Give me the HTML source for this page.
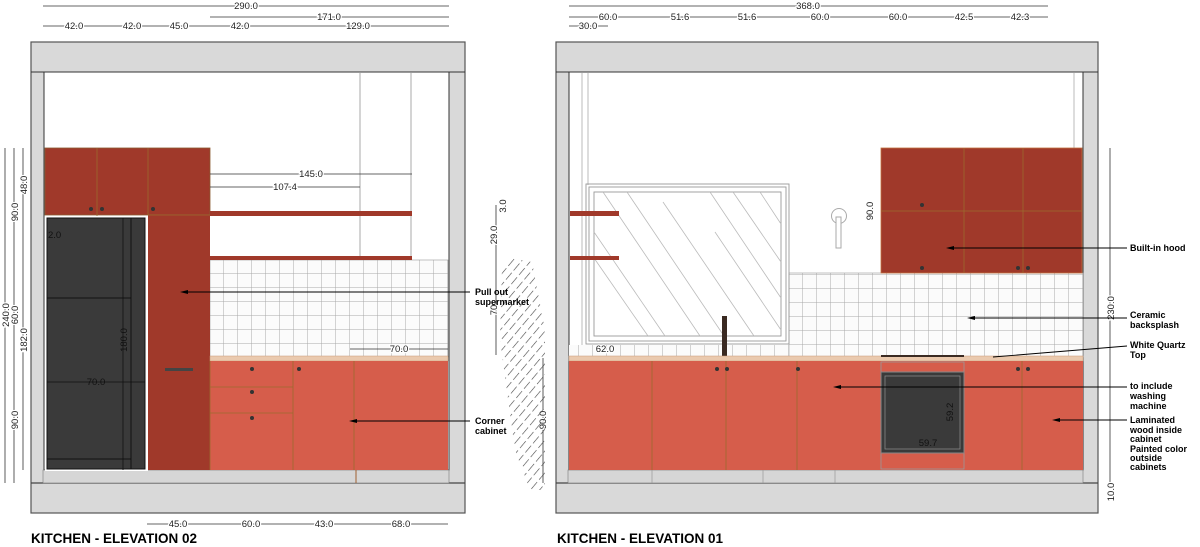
<!DOCTYPE html>
<html><head><meta charset="utf-8"><style>
html,body{margin:0;padding:0;background:#fff;}
svg{display:block;font-family:"Liberation Sans",sans-serif;}
.d{font-size:9.5px;fill:#222;paint-order:stroke;stroke:#fff;stroke-width:2.5px;}
.d .n{stroke:none;fill:#111;}
.lb{font-size:9px;font-weight:bold;fill:#000;}
.ttl{font-size:13.5px;font-weight:bold;fill:#000;}
</style></head><body>
<svg width="1200" height="547" viewBox="0 0 1200 547" xmlns="http://www.w3.org/2000/svg">
<defs>
<pattern id="tile" x="210" y="260" width="14" height="14" patternUnits="userSpaceOnUse">
<rect width="14" height="14" fill="#fbfbfb"/><path d="M14 0V14M0 14H14" stroke="#a8a8a8" stroke-width="1" fill="none"/>
</pattern>
<pattern id="tile2" x="789" y="274" width="14" height="14" patternUnits="userSpaceOnUse">
<rect width="14" height="14" fill="#fbfbfb"/><path d="M14 0V14M0 0H14" stroke="#a8a8a8" stroke-width="1" fill="none"/>
</pattern>
<pattern id="hatch" width="7" height="12" patternUnits="userSpaceOnUse" patternTransform="rotate(40)">
<line x1="0" y1="0" x2="0" y2="12" stroke="#444" stroke-width="1.2" stroke-dasharray="9 3"/>
</pattern>
</defs>

<!-- ===== ELEVATION 02 ===== -->
<rect x="31" y="42" width="434" height="471" fill="#d9d9d9" stroke="#555" stroke-width="1.2"/>
<rect x="44" y="72" width="405" height="398" fill="#fff" stroke="#333" stroke-width="1"/>
<line x1="31" y1="72" x2="465" y2="72" stroke="#333"/>
<line x1="31" y1="483" x2="465" y2="483" stroke="#444" stroke-width="1.2"/>
<rect x="43" y="470" width="406" height="13" fill="#d6d6d6" stroke="#777" stroke-width="0.6"/>
<line x1="356" y1="470" x2="356" y2="483" stroke="#a06030"/>
<line x1="360" y1="73" x2="360" y2="260" stroke="#aaa"/>
<line x1="411" y1="73" x2="411" y2="260" stroke="#aaa"/>
<rect x="210" y="260" width="238" height="97" fill="url(#tile)" stroke="#999" stroke-width="0.6"/>
<rect x="45" y="148" width="165" height="67" fill="#a0392a" stroke="#8a5a30" stroke-width="0.8"/>
<line x1="97" y1="148" x2="97" y2="218" stroke="#9b6b2e" stroke-width="0.8"/>
<line x1="148" y1="148" x2="148" y2="215" stroke="#9b6b2e" stroke-width="0.8"/>
<rect x="148" y="215" width="62" height="255" fill="#a0392a"/>
<line x1="148" y1="215" x2="210" y2="215" stroke="#9b6b2e" stroke-width="0.8"/>
<rect x="165" y="368" width="28" height="3" fill="#444"/>
<circle cx="91" cy="209" r="2" fill="#333"/><circle cx="102" cy="209" r="2" fill="#333"/><circle cx="153" cy="209" r="2" fill="#333"/>
<rect x="45" y="216" width="103" height="255" fill="#fff"/>
<rect x="47" y="218" width="98" height="251" fill="#3a3a3a" stroke="#111" stroke-width="1"/>
<line x1="131" y1="218" x2="131" y2="469" stroke="#111"/>
<line x1="47" y1="298" x2="131" y2="298" stroke="#111"/>
<line x1="47" y1="459" x2="131" y2="459" stroke="#111"/>
<rect x="210" y="211" width="202" height="5" fill="#a0392a"/>
<rect x="210" y="256" width="202" height="4" fill="#a0392a"/>
<rect x="210" y="356" width="238" height="5" fill="#eac9ae" stroke="#c89a78" stroke-width="0.5"/>
<rect x="210" y="361" width="238" height="109" fill="#d65d4b"/>
<line x1="293" y1="361" x2="293" y2="470" stroke="#9b6b2e" stroke-width="0.8"/>
<line x1="354" y1="361" x2="354" y2="470" stroke="#9b6b2e" stroke-width="0.8"/>
<line x1="210" y1="387" x2="293" y2="387" stroke="#9b6b2e" stroke-width="0.8"/>
<line x1="210" y1="413" x2="293" y2="413" stroke="#9b6b2e" stroke-width="0.8"/>
<line x1="210" y1="361" x2="210" y2="470" stroke="#9b6b2e" stroke-width="0.8"/>
<g fill="#333"><circle cx="252" cy="369" r="2"/><circle cx="252" cy="392" r="2"/><circle cx="252" cy="418" r="2"/><circle cx="299" cy="369" r="2"/></g>
<g stroke="#333" stroke-width="0.8" fill="none">
<line x1="43" y1="6" x2="449" y2="6"/>
<line x1="210" y1="17" x2="449" y2="17"/>
<line x1="43" y1="26" x2="449" y2="26"/>
<line x1="210" y1="174" x2="412" y2="174"/>
<line x1="210" y1="187" x2="360" y2="187"/>
<line x1="47" y1="382" x2="145" y2="382" stroke="#111"/>
<line x1="350" y1="349" x2="448" y2="349"/>
<line x1="147" y1="524" x2="448" y2="524"/>
<line x1="5" y1="148" x2="5" y2="483"/>
<line x1="14" y1="148" x2="14" y2="483"/>
<line x1="23" y1="148" x2="23" y2="470"/>
<line x1="123" y1="218" x2="123" y2="470" stroke="#111"/>
<line x1="496" y1="205" x2="496" y2="355"/>
<line x1="543" y1="358" x2="543" y2="483"/>
<line x1="1110" y1="148" x2="1110" y2="483"/>
<line x1="869" y1="148" x2="869" y2="273"/>
<line x1="569" y1="6" x2="1048" y2="6"/>
<line x1="569" y1="17" x2="1048" y2="17"/>
<line x1="569" y1="26" x2="608" y2="26"/>
<line x1="569" y1="349" x2="651" y2="349"/>
<line x1="881" y1="443" x2="964" y2="443" stroke="#111"/>
<line x1="956" y1="373" x2="956" y2="452" stroke="#111"/>
</g>
<g class="d">
<text x="246" y="9" text-anchor="middle">290.0</text>
<text x="329" y="20" text-anchor="middle">171.0</text>
<text x="74" y="29" text-anchor="middle">42.0</text>
<text x="132" y="29" text-anchor="middle">42.0</text>
<text x="179" y="29" text-anchor="middle">45.0</text>
<text x="240" y="29" text-anchor="middle">42.0</text>
<text x="358" y="29" text-anchor="middle">129.0</text>
<text x="311" y="177" text-anchor="middle">145.0</text>
<text x="285" y="190" text-anchor="middle">107.4</text>
<text class="n" x="96" y="385" text-anchor="middle">70.0</text>
<text x="399" y="352" text-anchor="middle">70.0</text>
<text x="178" y="527" text-anchor="middle">45.0</text>
<text x="251" y="527" text-anchor="middle">60.0</text>
<text x="324" y="527" text-anchor="middle">43.0</text>
<text x="401" y="527" text-anchor="middle">68.0</text>
<text class="n" x="48" y="238">2.0</text>
<text transform="translate(9,315) rotate(-90)" text-anchor="middle">240.0</text>
<text transform="translate(18,212) rotate(-90)" text-anchor="middle">90.0</text>
<text transform="translate(27,185) rotate(-90)" text-anchor="middle">48.0</text>
<text transform="translate(18,315) rotate(-90)" text-anchor="middle">60.0</text>
<text transform="translate(27,340) rotate(-90)" text-anchor="middle">182.0</text>
<text transform="translate(18,420) rotate(-90)" text-anchor="middle">90.0</text>
<text class="n" transform="translate(127,340) rotate(-90)" text-anchor="middle">180.0</text>
<text transform="translate(506,206) rotate(-90)" text-anchor="middle">3.0</text>
<text transform="translate(497,235) rotate(-90)" text-anchor="middle">29.0</text>
<text transform="translate(497,310) rotate(-90)" text-anchor="middle">70</text>
<text transform="translate(546,420) rotate(-90)" text-anchor="middle">90.0</text>
</g>
<polygon points="510,258 532,262 545,330 545,490 530,490 515,450 500,340 502,268" fill="url(#hatch)"/>
<g stroke="#000" stroke-width="0.9"><line x1="183" y1="292" x2="470" y2="292"/><line x1="352" y1="421" x2="470" y2="421"/></g>
<polygon points="180,292 188,290 188,294" fill="#000"/><polygon points="349,421 357,419 357,423" fill="#000"/>
<text class="lb" x="475" y="295">Pull out</text><text class="lb" x="475" y="305">supermarket</text>
<text class="lb" x="475" y="424">Corner</text><text class="lb" x="475" y="434">cabinet</text>
<text class="ttl" x="31" y="543">KITCHEN - ELEVATION 02</text>

<!-- ===== ELEVATION 01 ===== -->
<rect x="556" y="42" width="542" height="471" fill="#d9d9d9" stroke="#555" stroke-width="1.2"/>
<rect x="569" y="72" width="514" height="398" fill="#fff" stroke="#333" stroke-width="1"/>
<line x1="556" y1="72" x2="1098" y2="72" stroke="#333"/>
<line x1="556" y1="483" x2="1098" y2="483" stroke="#444" stroke-width="1.2"/>
<rect x="568" y="470" width="515" height="13" fill="#d6d6d6" stroke="#777" stroke-width="0.6"/>
<g stroke="#999" stroke-width="0.7"><line x1="652" y1="470" x2="652" y2="483"/><line x1="763" y1="470" x2="763" y2="483"/><line x1="835" y1="470" x2="835" y2="483"/></g>
<g stroke="#aaa" stroke-width="0.8"><line x1="582" y1="73" x2="582" y2="357"/><line x1="588" y1="73" x2="588" y2="185"/><line x1="1074" y1="73" x2="1074" y2="148"/></g>
<rect x="569" y="345" width="220" height="12" fill="url(#tile2)"/>
<rect x="789" y="273" width="294" height="84" fill="url(#tile2)" stroke="#999" stroke-width="0.6"/>
<g fill="none" stroke="#999" stroke-width="0.9">
<rect x="586" y="184" width="203" height="160"/><rect x="589" y="187" width="197" height="154"/>
<rect x="594" y="192" width="187" height="144"/>
</g>
<g stroke="#bbb" stroke-width="0.8">
<line x1="603" y1="192" x2="700" y2="336"/><line x1="627" y1="192" x2="724" y2="336"/>
<line x1="663" y1="202" x2="754" y2="336"/><line x1="594" y1="232" x2="665" y2="336"/>
<line x1="594" y1="258" x2="648" y2="336"/><line x1="710" y1="192" x2="781" y2="298"/>
<line x1="733" y1="192" x2="781" y2="262"/><line x1="760" y1="192" x2="781" y2="224"/>
<line x1="715" y1="232" x2="781" y2="330"/>
</g>
<rect x="570" y="211" width="49" height="5" fill="#a0392a"/>
<rect x="570" y="256" width="49" height="4" fill="#a0392a"/>
<circle cx="839" cy="216" r="7.5" fill="none" stroke="#aaa"/>
<rect x="836" y="217" width="5" height="31" fill="#fff" stroke="#aaa"/>
<rect x="881" y="148" width="201" height="125" fill="#a0392a" stroke="#c07040" stroke-width="0.8"/>
<g stroke="#9b6b2e" stroke-width="0.8"><line x1="964" y1="148" x2="964" y2="273"/><line x1="1023" y1="148" x2="1023" y2="273"/><line x1="881" y1="211" x2="1082" y2="211"/></g>
<g fill="#333"><circle cx="922" cy="205" r="2"/><circle cx="922" cy="268" r="2"/><circle cx="1018" cy="268" r="2"/><circle cx="1028" cy="268" r="2"/></g>
<rect x="722" y="316" width="5" height="41" fill="#3a2a22"/>
<rect x="569" y="356" width="514" height="5" fill="#eac9ae" stroke="#c89a78" stroke-width="0.5"/>
<rect x="881" y="355" width="83" height="2" fill="#3a2a22"/>
<rect x="569" y="361" width="514" height="109" fill="#d65d4b"/>
<g stroke="#9b6b2e" stroke-width="0.8">
<line x1="652" y1="361" x2="652" y2="470"/><line x1="726" y1="361" x2="726" y2="470"/>
<line x1="797" y1="361" x2="797" y2="470"/><line x1="1022" y1="361" x2="1022" y2="470"/>
</g>
<rect x="881" y="362" width="83" height="107" fill="none" stroke="#999" stroke-width="0.8"/>
<rect x="881" y="372" width="83" height="81" fill="#3a3a3a" stroke="#888" stroke-width="1"/>
<rect x="885" y="376" width="75" height="73" fill="none" stroke="#888" stroke-width="0.8"/>
<g fill="#333"><circle cx="717" cy="369" r="2"/><circle cx="727" cy="369" r="2"/><circle cx="798" cy="369" r="2"/><circle cx="1018" cy="369" r="2"/><circle cx="1028" cy="369" r="2"/></g>
<g class="d">
<text x="808" y="9" text-anchor="middle">368.0</text>
<text x="608" y="20" text-anchor="middle">60.0</text>
<text x="680" y="20" text-anchor="middle">51.6</text>
<text x="747" y="20" text-anchor="middle">51.6</text>
<text x="820" y="20" text-anchor="middle">60.0</text>
<text x="898" y="20" text-anchor="middle">60.0</text>
<text x="964" y="20" text-anchor="middle">42.5</text>
<text x="1020" y="20" text-anchor="middle">42.3</text>
<text x="588" y="29" text-anchor="middle">30.0</text>
<text x="605" y="352" text-anchor="middle">62.0</text>
<text class="n" x="928" y="446" text-anchor="middle">59.7</text>
<text class="n" transform="translate(953,412) rotate(-90)" text-anchor="middle">59.2</text>
<text transform="translate(873,211) rotate(-90)" text-anchor="middle">90.0</text>
<text transform="translate(1114,308) rotate(-90)" text-anchor="middle">230.0</text>
<text transform="translate(1114,492) rotate(-90)" text-anchor="middle">10.0</text>
</g>
<g stroke="#000" stroke-width="0.9">
<line x1="949" y1="248" x2="1127" y2="248"/>
<line x1="970" y1="318" x2="1127" y2="318"/>
<line x1="993" y1="357" x2="1127" y2="346"/>
<line x1="836" y1="387" x2="1127" y2="387"/>
<line x1="1055" y1="420" x2="1127" y2="420"/>
</g>
<g fill="#000"><polygon points="946,248 954,246 954,250"/><polygon points="967,318 975,316 975,320"/><polygon points="833,387 841,385 841,389"/><polygon points="1052,420 1060,418 1060,422"/></g>
<text class="lb" x="1130" y="251">Built-in hood</text>
<text class="lb" x="1130" y="318">Ceramic</text><text class="lb" x="1130" y="328">backsplash</text>
<text class="lb" x="1130" y="348">White Quartz</text><text class="lb" x="1130" y="358">Top</text>
<text class="lb" x="1130" y="389">to include</text><text class="lb" x="1130" y="399">washing</text><text class="lb" x="1130" y="409">machine</text>
<text class="lb" x="1130" y="423">Laminated</text><text class="lb" x="1130" y="433">wood inside</text><text class="lb" x="1130" y="442">cabinet</text><text class="lb" x="1130" y="452">Painted color</text><text class="lb" x="1130" y="461">outside</text><text class="lb" x="1130" y="470">cabinets</text>
<text class="ttl" x="557" y="543">KITCHEN - ELEVATION 01</text>
</svg>
</body></html>
